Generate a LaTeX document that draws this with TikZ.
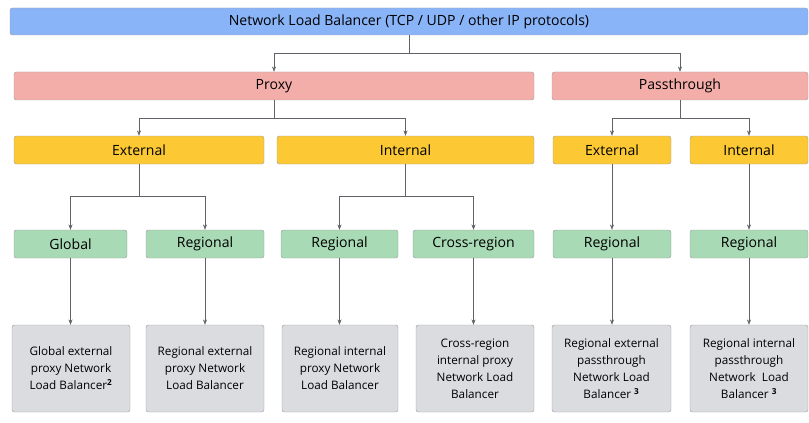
\documentclass[tikz,border=0pt]{standalone}
\usepackage{fontspec}
\setmainfont{Open Sans}
\usetikzlibrary{arrows.meta, positioning, calc}

\definecolor{lbblue}{HTML}{8AB4F8}
\definecolor{lbpink}{HTML}{F4AEAA}
\definecolor{lbyellow}{HTML}{FCC934}
\definecolor{lbgreen}{HTML}{A8DAB5}
\definecolor{lbgray}{HTML}{DADCE0}
\definecolor{lbline}{HTML}{5F6368}

\begin{document}
\begin{tikzpicture}[
  x=0.03cm, y=-0.03cm,
  box/.style = {draw=lbline!60, rounded corners=2pt, inner sep=0pt, align=center, font=\fontsize{12}{14}\selectfont},
  leaf/.style = {box, fill=lbgray, font=\fontsize{10}{14.5}\selectfont},
  arrow/.style = {draw=lbline, thin, -{Stealth[length=1.6mm,width=1.2mm]}},
  link/.style = {draw=lbline, thin}
]
\useasboundingbox (0,0) rectangle (809,423);

% top
\node[box, fill=lbblue, minimum width=798*0.03cm, minimum height=27*0.03cm] (nlb) at (409,21.5) {Network Load Balancer (TCP / UDP / other IP protocols)};

% second row
\node[box, fill=lbpink, minimum width=520*0.03cm, minimum height=28*0.03cm] (proxy) at (274,86) {Proxy};
\node[box, fill=lbpink, minimum width=256*0.03cm, minimum height=28*0.03cm] (pass) at (680,86) {Passthrough};

% third row
\node[box, fill=lbyellow, minimum width=250*0.03cm, minimum height=28*0.03cm] (pext) at (139,150) {External};
\node[box, fill=lbyellow, minimum width=257*0.03cm, minimum height=28*0.03cm] (pint) at (405.5,150) {Internal};
\node[box, fill=lbyellow, minimum width=118*0.03cm, minimum height=28*0.03cm] (sext) at (612,150) {External};
\node[box, fill=lbyellow, minimum width=118*0.03cm, minimum height=28*0.03cm] (sint) at (749,150) {Internal};

% fourth row
\foreach \name/\cx/\w/\txt in {glob/70.5/113/Global, preg/205/118/Regional, ireg/339.5/117/Regional,
    xreg/473.5/121/Cross-region, sreg/612/118/Regional, treg/749/118/Regional}
  \node[box, fill=lbgreen, minimum width=\w*0.03cm, minimum height=28*0.03cm] (\name) at (\cx,244) {\txt};

% leaves
\node[leaf, minimum width=118*0.03cm, minimum height=87*0.03cm] (lglob) at (71,368.5) {Global external\\proxy Network\\Load Balancer\textsuperscript{\textbf{2}}};
\node[leaf, minimum width=118*0.03cm, minimum height=87*0.03cm] (lpreg) at (205,368.5) {Regional external\\proxy Network\\Load Balancer};
\node[leaf, minimum width=116*0.03cm, minimum height=87*0.03cm] (lireg) at (340,368.5) {Regional internal\\proxy Network\\Load Balancer};
\node[leaf, minimum width=118*0.03cm, minimum height=87*0.03cm] (lxreg) at (475,368.5) {Cross-region\\internal proxy\\Network Load\\Balancer};
\node[leaf, minimum width=119*0.03cm, minimum height=87*0.03cm] (lsreg) at (611.5,368.5) {Regional external\\passthrough\\Network Load\\Balancer \textsuperscript{\textbf{3}}};
\node[leaf, minimum width=118*0.03cm, minimum height=87*0.03cm] (ltreg) at (749,368.5) {Regional internal\\passthrough\\Network\ \ Load\\Balancer \textsuperscript{\textbf{3}}};

% junctions
\coordinate (j1) at (409,53);
\coordinate (j2) at (274,118);
\coordinate (j3) at (680,118);
\coordinate (j4) at (139,196);
\coordinate (j5) at (405.5,196);

\draw[link] (nlb.south -| j1) -- (j1);
\draw[arrow] (j1) -| (proxy.north);
\draw[arrow] (j1) -| (pass.north);
\draw[link] (proxy.south) -- (j2);
\draw[arrow] (j2) -| (pext.north);
\draw[arrow] (j2) -| (pint.north);
\draw[link] (pass.south) -- (j3);
\draw[arrow] (j3) -| (sext.north);
\draw[arrow] (j3) -| (sint.north);
\draw[link] (pext.south) -- (j4);
\draw[arrow] (j4) -| (glob.north);
\draw[arrow] (j4) -| (preg.north);
\draw[link] (pint.south) -- (j5);
\draw[arrow] (j5) -| (ireg.north);
\draw[arrow] (j5) -| (xreg.north);
\draw[arrow] (sext) -- (sreg);
\draw[arrow] (sint) -- (treg);

\foreach \a/\b in {glob/lglob, preg/lpreg, ireg/lireg, xreg/lxreg, sreg/lsreg, treg/ltreg}
  \draw[arrow] (\a.south) -- (\a.south |- \b.north);
\end{tikzpicture}
\end{document}
